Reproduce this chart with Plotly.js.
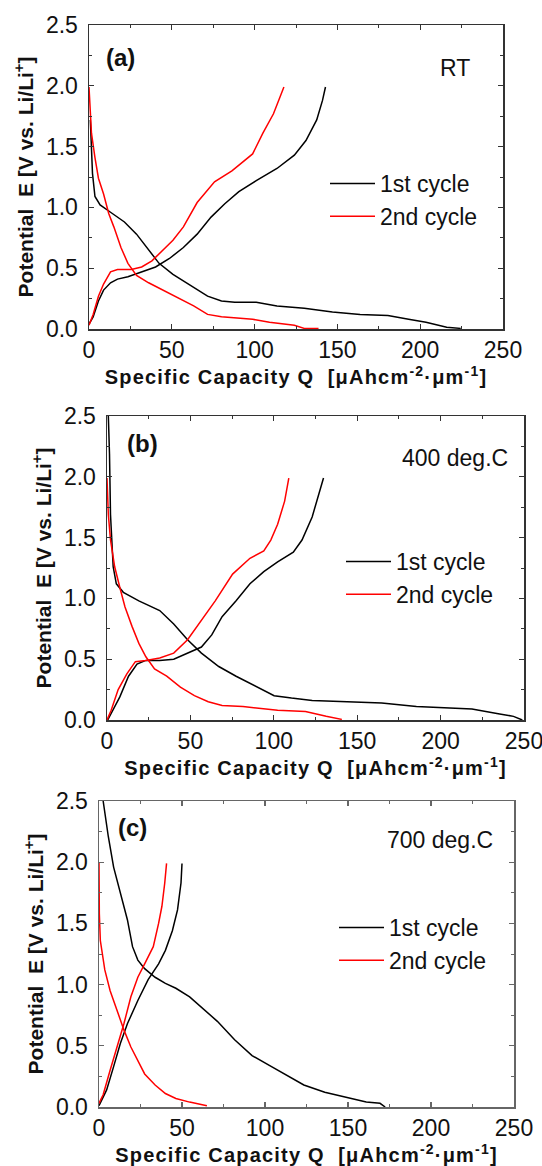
<!DOCTYPE html>
<html>
<head>
<meta charset="utf-8">
<script src="https://cdn.plot.ly/plotly-3.0.1.min.js"></script>
<style>
html,body{margin:0;padding:0;background:#fff;}
#chart{width:542px;height:1166px;}
.g-xtitle text,.g-x2title text,.g-x3title text{letter-spacing:1.2px;}
</style>
</head>
<body>
<div id="chart"></div>
<script>
// ---------- Data ----------
const seriesNames = ["1st cycle", "2nd cycle"];
const panelLabels = ["(a)", "(b)", "(c)"];
const panelConditions = ["RT", "400 deg.C", "700 deg.C"];
const xTickVals = [0, 50, 100, 150, 200, 250];
const yTickVals = [0.0, 0.5, 1.0, 1.5, 2.0, 2.5];

// Panel (a) RT
const aCyc1DisQ = [0.8, 2.1, 3.6, 6.7, 13, 21.4, 28.7, 36, 42.3, 50.7, 61, 71.6, 80, 88, 101, 113.5, 130, 147, 163.7, 180.5, 193, 203.5, 216, 224.5];
const aCyc1DisE = [1.72, 1.28, 1.09, 1.02, 0.96, 0.88, 0.78, 0.65, 0.54, 0.45, 0.36, 0.27, 0.23, 0.22, 0.22, 0.19, 0.17, 0.14, 0.12, 0.11, 0.08, 0.055, 0.014, 0.005];
const aCyc1ChgQ = [0, 2.5, 5.7, 8.8, 13, 17.2, 23.5, 31.8, 40.2, 48.6, 57, 65.3, 73.7, 82, 90.5, 101, 113.5, 124, 131, 137.5, 141, 142.8];
const aCyc1ChgE = [0.04, 0.1, 0.23, 0.32, 0.38, 0.41, 0.43, 0.47, 0.51, 0.58, 0.67, 0.78, 0.92, 1.03, 1.13, 1.22, 1.32, 1.43, 1.55, 1.72, 1.88, 1.99];
const aCyc2DisQ = [0, 0.8, 1.5, 3.6, 5.7, 8.8, 11.9, 15, 19.3, 23.5, 28.7, 36, 44.4, 54.9, 63.2, 71.6, 80, 98.8, 109, 124, 130, 138.6];
const aCyc2DisE = [1.99, 1.83, 1.61, 1.41, 1.24, 1.11, 0.95, 0.84, 0.67, 0.54, 0.44, 0.38, 0.32, 0.25, 0.19, 0.12, 0.10, 0.08, 0.055, 0.03, 0.005, 0.005];
const aCyc2ChgQ = [0, 2.5, 5.7, 8.8, 13, 17.2, 25.5, 31.8, 38, 44.4, 50.7, 57, 65.3, 75.8, 86.3, 98.8, 105, 111.4, 117.7];
const aCyc2ChgE = [0.03, 0.12, 0.27, 0.37, 0.47, 0.49, 0.49, 0.51, 0.56, 0.65, 0.73, 0.84, 1.04, 1.21, 1.30, 1.44, 1.61, 1.77, 1.99];

// Panel (b) 400 deg.C
const bCyc1DisQ = [0.8, 1.5, 2.1, 2.9, 3.7, 5.6, 9.8, 19.1, 27.5, 31.6, 40, 48.3, 56.6, 67, 77.4, 87.8, 100.2, 110.6, 123, 144, 164.7, 185.5, 202, 218.8, 235.4, 243.7, 249];
const bCyc1DisE = [2.5, 2.19, 1.69, 1.42, 1.26, 1.12, 1.05, 0.98, 0.93, 0.90, 0.79, 0.66, 0.55, 0.44, 0.36, 0.29, 0.20, 0.18, 0.16, 0.15, 0.14, 0.11, 0.10, 0.09, 0.05, 0.03, 0.0];
const bCyc1ChgQ = [0.4, 3.5, 7.7, 12.9, 18, 23.3, 31.6, 40, 48.3, 56.6, 62.8, 69, 77.4, 85.7, 94, 102.3, 111.7, 116.9, 123, 127.3, 129.8];
const bCyc1ChgE = [0.0, 0.08, 0.19, 0.36, 0.46, 0.49, 0.49, 0.50, 0.55, 0.60, 0.70, 0.85, 0.98, 1.12, 1.22, 1.30, 1.38, 1.48, 1.67, 1.86, 1.99];
const bCyc2DisQ = [0, 0.8, 2.1, 4.6, 7.7, 10.8, 15, 19.1, 23.3, 28.5, 35.8, 44, 52.4, 60.7, 69, 81.5, 102.3, 119, 131.4, 140.8];
const bCyc2DisE = [1.99, 1.69, 1.48, 1.26, 1.09, 0.93, 0.77, 0.63, 0.52, 0.42, 0.36, 0.27, 0.20, 0.15, 0.12, 0.11, 0.08, 0.07, 0.03, 0.005];
const bCyc2ChgQ = [0, 2.5, 6.7, 11.9, 17, 23.3, 31.6, 40, 48.3, 56.6, 64.9, 75.3, 85.7, 94, 98.2, 102.3, 106.5, 109];
const bCyc2ChgE = [0.0, 0.08, 0.25, 0.38, 0.48, 0.49, 0.51, 0.55, 0.66, 0.82, 0.98, 1.20, 1.33, 1.39, 1.48, 1.61, 1.80, 1.99];

// Panel (c) 700 deg.C
const cCyc1DisQ = [2.5, 5.6, 8.8, 12.9, 17.1, 20.2, 23.4, 27.5, 33.8, 40, 46.3, 54.6, 63, 71.3, 81.7, 92.2, 102.6, 113, 123.4, 136, 148.5, 161, 169.3, 172.4];
const cCyc1DisE = [2.5, 2.21, 1.96, 1.74, 1.53, 1.31, 1.20, 1.13, 1.06, 1.01, 0.97, 0.90, 0.80, 0.70, 0.55, 0.42, 0.34, 0.26, 0.18, 0.12, 0.08, 0.04, 0.03, 0.0];
const cCyc1ChgQ = [0, 2.5, 4.6, 8.8, 12.9, 17.1, 23.4, 29.6, 35.9, 40, 44.2, 47.3, 49.4, 50];
const cCyc1ChgE = [0.01, 0.08, 0.14, 0.33, 0.52, 0.68, 0.87, 1.04, 1.17, 1.28, 1.44, 1.61, 1.83, 1.99];
const cCyc2DisQ = [0, 0.2, 0.8, 2.5, 3.5, 6.7, 10.8, 15, 19.2, 23.4, 27.5, 33.8, 40, 46.3, 54.6, 65];
const cCyc2DisE = [2.0, 1.58, 1.36, 1.23, 1.12, 0.95, 0.79, 0.63, 0.49, 0.38, 0.27, 0.18, 0.11, 0.07, 0.04, 0.01];
const cCyc2ChgQ = [0, 2.5, 6.7, 10.8, 15, 19.2, 23.4, 27.5, 32.7, 35.9, 37.9, 39.6, 40.7];
const cCyc2ChgE = [0.03, 0.10, 0.30, 0.49, 0.68, 0.90, 1.06, 1.17, 1.31, 1.50, 1.64, 1.83, 1.99];

const panels = [
  {c1: [[aCyc1DisQ, aCyc1DisE], [aCyc1ChgQ, aCyc1ChgE]], c2: [[aCyc2DisQ, aCyc2DisE], [aCyc2ChgQ, aCyc2ChgE]]},
  {c1: [[bCyc1DisQ, bCyc1DisE], [bCyc1ChgQ, bCyc1ChgE]], c2: [[bCyc2DisQ, bCyc2DisE], [bCyc2ChgQ, bCyc2ChgE]]},
  {c1: [[cCyc1DisQ, cCyc1DisE], [cCyc1ChgQ, cCyc1ChgE]], c2: [[cCyc2DisQ, cCyc2DisE], [cCyc2ChgQ, cCyc2ChgE]]}
];

// ---------- Layout geometry (pixels) ----------
const W = 542, H = 1166;
const boxes = [
  {l: 89, r: 503, t: 25, b: 329, legTextX: 380, legY: 162, lab: [104, 57], cond: [472, 68], frame: "#333"},
  {l: 107, r: 524, t: 416, b: 720, legTextX: 396, legY: 540, lab: [125, 443], cond: [510, 458], frame: "#333"},
  {l: 99, r: 514, t: 801, b: 1107, legTextX: 389, legY: 906, lab: [116, 827], cond: [495, 840], frame: "#666"}
];
const colors = ["#000000", "#ff0000"];
const FONT = "Liberation Sans, Arial, sans-serif";

const traces = [];
const layout = {
  width: W, height: H,
  margin: {l: 0, r: 0, t: 0, b: 0},
  paper_bgcolor: "#fff", plot_bgcolor: "#fff",
  font: {family: FONT, color: "#111"},
  annotations: [],
  showlegend: true
};

panels.forEach((p, i) => {
  const n = i === 0 ? "" : String(i + 1);
  const xa = "x" + n, ya = "y" + n;
  const legName = i === 0 ? "legend" : "legend" + (i + 1);
  [p.c1, p.c2].forEach((cyc, k) => {
    cyc.forEach((seg, s) => {
      traces.push({
        type: "scatter", mode: "lines",
        x: seg[0], y: seg[1],
        xaxis: xa, yaxis: ya,
        name: seriesNames[k],
        legend: legName,
        showlegend: s === 0,
        line: {color: colors[k], width: 1.5},
        hoverinfo: "skip"
      });
    });
  });
  const bx = boxes[i];
  const axCommon = {
    showline: true, mirror: "ticks", linecolor: bx.frame, linewidth: 1.5,
    ticks: "inside", ticklen: 5, tickwidth: 1.2, tickcolor: bx.frame,
    showgrid: false, zeroline: false, fixedrange: true,
    ticklabeloverflow: "allow",
    tickfont: {family: FONT, size: 23, color: "#111"}
  };
  layout["xaxis" + n] = Object.assign({}, axCommon, {
    domain: [bx.l / W, bx.r / W],
    anchor: ya,
    range: [0, 250],
    tickvals: xTickVals,
    ticktext: xTickVals.map(v => String(v)),
    ticklabelstandoff: 0,
    minor: {ticks: "inside", ticklen: 3, dtick: 25, tick0: 0, tickcolor: bx.frame, tickwidth: 1},
    title: {text: "<b>Specific Capacity Q  [μAhcm<sup>-2</sup>·μm<sup>-1</sup>]</b>",
            font: {family: FONT, size: 20, color: "#111"}, standoff: 2}
  });
  layout["yaxis" + n] = Object.assign({}, axCommon, {
    domain: [1 - bx.b / H, 1 - bx.t / H],
    anchor: xa,
    range: [0, 2.5],
    tickvals: yTickVals,
    ticktext: yTickVals.map(v => v.toFixed(1)),
    ticklabelstandoff: 5,
    minor: {ticks: "inside", ticklen: 3, dtick: 0.25, tick0: 0, tickcolor: bx.frame, tickwidth: 1},
    title: {text: "<b>Potential  E [V vs. Li/Li<sup>+</sup>]</b>",
            font: {family: FONT, size: 21, color: "#111"}, standoff: 6}
  });
  layout[legName] = {
    x: (bx.legTextX - 50) / W, y: 1 - bx.legY / H,
    xanchor: "left", yanchor: "top",
    bgcolor: "rgba(0,0,0,0)", borderwidth: 0,
    font: {family: FONT, size: 23, color: "#111"},
    itemwidth: 40,
    traceorder: "normal"
  };
  layout.annotations.push({
    xref: "paper", yref: "paper", x: bx.lab[0] / W, y: 1 - bx.lab[1] / H,
    xanchor: "left", yanchor: "middle", showarrow: false,
    text: "<b>" + panelLabels[i] + "</b>",
    font: {family: FONT, size: 24, color: "#111"}
  });
  layout.annotations.push({
    xref: "paper", yref: "paper", x: bx.cond[0] / W, y: 1 - bx.cond[1] / H,
    xanchor: "right", yanchor: "middle", showarrow: false,
    text: panelConditions[i],
    font: {family: FONT, size: 23, color: "#111"}
  });
});

Plotly.newPlot("chart", traces, layout, {staticPlot: true, displayModeBar: false}).then(gd => {
  // lengthen legend line samples to match the reference's longer legend strokes
  gd.querySelectorAll(".legendlines path").forEach(pth => {
    const bb = pth.getBBox();
    if (bb.width > 0) {
      pth.setAttribute("d", "M" + (bb.x - 28) + ",0h" + (bb.width + 28));
    }
  });
});
</script>
</body>
</html>
